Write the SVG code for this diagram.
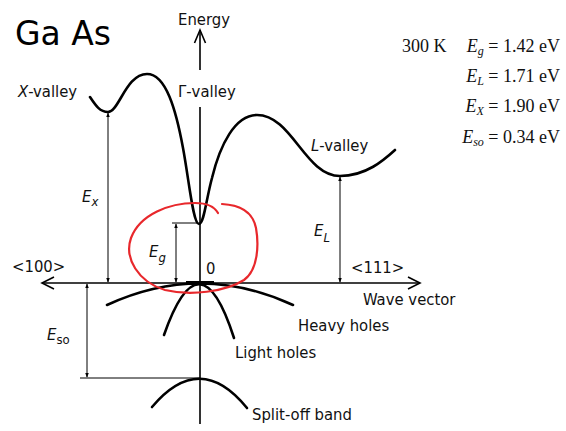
<svg xmlns="http://www.w3.org/2000/svg" width="566" height="431" viewBox="0 0 566 431">
<defs>
<style>
.lbl{font-family:"DejaVu Sans Condensed","DejaVu Sans",sans-serif;font-stretch:condensed;font-size:16.5px;fill:#111}
.it{font-style:italic}
.sub{font-size:13px}
.ser{font-family:"Liberation Serif","Times New Roman",serif;font-size:18px;fill:#111}
.band{fill:none;stroke:#000;stroke-width:2.6;stroke-linecap:round}
.ax{fill:none;stroke:#000;stroke-width:1.6}
.dim{fill:none;stroke:#000;stroke-width:1}
.hand{font-family:"DejaVu Sans",sans-serif;font-size:33px;fill:#000}
</style>
<marker id="ah" viewBox="0 0 8 8" refX="7" refY="4" markerWidth="5" markerHeight="5" orient="auto-start-reverse" markerUnits="userSpaceOnUse">
<path d="M0,1 L8,4 L0,7 Z" fill="#000"/>
</marker>
</defs>
<rect width="566" height="431" fill="#fff"/>

<g id="title">
<text class="hand" x="15" y="45">Ga As</text>
</g>

<g id="axes">
<path class="ax" d="M200,30 L200,70 M200,107 L200,424"/>
<path class="ax" d="M194.5,43 L200,30 L205.5,43"/>
<path class="ax" stroke-width="2" d="M42,283 L420,283"/>
<path class="ax" stroke-width="2" d="M54,277 L42,283 L54,289 M408,277 L420,283 L408,289"/>
<text class="lbl" x="178" y="25">Energy</text>
<text class="lbl" x="363" y="305">Wave vector</text>
<text class="lbl" x="12" y="272">&lt;100&gt;</text>
<text class="lbl" x="351" y="273">&lt;111&gt;</text>
<text class="lbl" x="206" y="274">0</text>
</g>

<g id="conduction-band">
<path class="band" d="M90,97 C96,106 100,112 108,112 C119,112 126,74 147,74 C166,74 176,110 183,148 C189,180 193,224 199,224 C204,224 206,200 212,178 C220,145 235,115 257,115 C292,115 305,176 340,176 C366,176 384,160 395,150"/>
<text class="lbl" x="18" y="97"><tspan class="it">X</tspan>-valley</text>
<text class="lbl" x="178" y="97">Γ-valley</text>
<text class="lbl" x="311" y="151"><tspan class="it">L</tspan>-valley</text>
</g>

<g id="valence-bands">
<path class="band" id="heavy" d="M107,305 Q200,262 293,305"/>
<path class="band" id="light" d="M164,335 Q200,232 234,338"/>
<path class="band" id="splitoff" d="M152,407 Q200,350 247,408"/>
<path d="M186,283 L214,283" stroke="#000" stroke-width="4"/>
<text class="lbl" x="298" y="331">Heavy holes</text>
<text class="lbl" x="235" y="358">Light holes</text>
<text class="lbl" x="252" y="420">Split-off band</text>
</g>

<g id="energy-gaps">
<path class="dim" d="M108,113 L108,282" marker-start="url(#ah)" marker-end="url(#ah)"/>
<text class="lbl it" x="82" y="202">E<tspan class="sub" dy="4">x</tspan></text>
<path class="dim" d="M340,177 L340,282" marker-start="url(#ah)" marker-end="url(#ah)"/>
<text class="lbl it" x="314" y="236">E<tspan class="sub" dy="6">L</tspan></text>
<path class="dim" d="M172,223 L198,223"/>
<path class="dim" d="M176,224 L176,282" marker-start="url(#ah)" marker-end="url(#ah)"/>
<text class="lbl it" x="149" y="257">E<tspan class="sub" dy="5">g</tspan></text>
<path class="dim" d="M80,378 L200,378"/>
<path class="dim" d="M87,284 L87,377" marker-start="url(#ah)" marker-end="url(#ah)"/>
<text class="lbl it" x="47" y="340">E<tspan class="sub" dy="4" font-style="normal">so</tspan></text>
</g>

<g id="values">
<text class="ser" x="402" y="52">300 K</text>
<text class="ser" x="560" y="52" text-anchor="end"><tspan font-style="italic">E</tspan><tspan font-size="12" font-style="italic" dy="3">g</tspan><tspan dy="-3"> = 1.42 eV</tspan></text>
<text class="ser" x="560" y="82" text-anchor="end"><tspan font-style="italic">E</tspan><tspan font-size="12" font-style="italic" dy="3">L</tspan><tspan dy="-3"> = 1.71 eV</tspan></text>
<text class="ser" x="560" y="112" text-anchor="end"><tspan font-style="italic">E</tspan><tspan font-size="12" font-style="italic" dy="3">X</tspan><tspan dy="-3"> = 1.90 eV</tspan></text>
<text class="ser" x="560" y="143" text-anchor="end"><tspan font-style="italic">E</tspan><tspan font-size="12" font-style="italic" dy="3">so</tspan><tspan dy="-3"> = 0.34 eV</tspan></text>
</g>

<g id="red-circle">
<path d="M218,213 C214,206 206,203 195,203 C170,203 140,214 131,238 C124,258 138,282 165,290 C190,296 225,292 244,280 C258,270 259,245 256,228 C253,213 242,205 222,204" fill="none" stroke="#e8282c" stroke-width="2.2" stroke-linecap="round"/>
</g>
</svg>
